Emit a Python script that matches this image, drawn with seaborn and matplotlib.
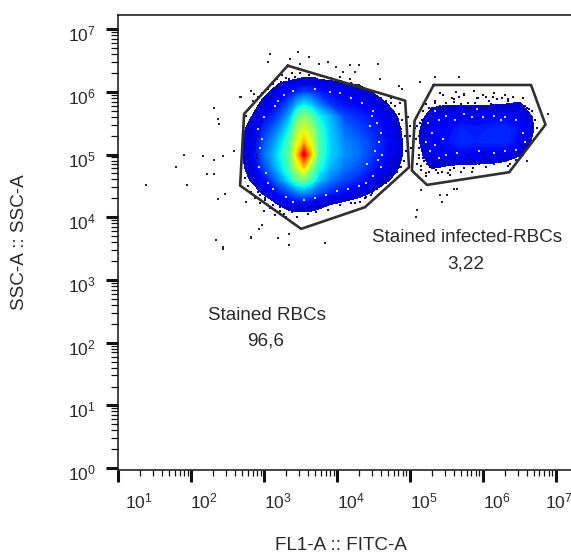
import numpy as np
import matplotlib
matplotlib.use("Agg")
import matplotlib.pyplot as plt
from matplotlib.ticker import LogLocator, NullFormatter, FixedLocator, FixedFormatter
from matplotlib.transforms import ScaledTranslation
import seaborn as sns

# log10 grid of the estimated event density (0 = empty, 10 = peak)
grid_lx = [2.6,2.8,3.0,3.2,3.35,3.45,3.55,3.65,3.75,3.9,4.1,4.3,4.5,4.7,4.9,5.1,5.3,5.5,5.7,5.9,6.1,6.3,6.5,6.7]
grid_ly = [6.4,6.2,6.0,5.8,5.6,5.4,5.2,5.0,4.8,4.6,4.4,4.2,4.0]
density = [
 [0,0,0,0,0,0,0,0,0,0,0,0,0,0,0,0,0,0,0,0,0,0,0,0],
 [0,0,0,0,.2,.3,.35,.35,.3,.2,0,0,0,0,0,0,0,0,0,0,0,0,0,0],
 [0,0,.1,.7,1,1.3,1.6,1.5,1.2,1,.9,.6,.25,0,0,0,0,0,0,0,0,0,0,0],
 [0,0,.5,1.1,1.9,2.8,3.4,3,2.3,1.5,1.1,.9,.7,.3,0,0,.15,.25,.25,.2,.25,.3,.35,0],
 [0,.2,1,1.7,2.8,4.4,5.2,4.6,3.6,2.9,1.7,1.4,1.1,.7,.05,.05,.6,.8,.9,.9,.9,1,1,.2],
 [0,.45,1.4,2.4,3.6,5.4,6.2,5.6,4.2,3.1,2.1,1.7,1.3,.9,.2,.2,.8,1,1.3,1.2,1.3,1.4,1.1,.3],
 [0,.55,1.8,3,4.3,6.2,7.3,6.2,4.4,3.2,2.4,2,1.5,1,.3,.2,.9,1.1,1.4,1.3,1.3,1.4,.9,.1],
 [0,.55,2.1,3.4,4.6,7,9.6,7.2,4.4,3.2,2.5,2.1,1.5,.9,.3,.1,.7,.9,1,.9,.9,.8,.35,0],
 [0,.5,1.7,3.1,4.3,6,7.2,5.4,3.9,2.9,2.2,1.8,1.2,.7,.15,0,.35,.25,.15,.15,.1,0,0,0],
 [0,.3,1,2.3,3.5,4.6,5,4.2,3.1,2.3,1.7,1.3,.8,.35,0,0,0,0,0,0,0,0,0,0],
 [0,0,.4,1.2,1.8,2.3,2.6,2.3,1.8,1.4,1,.6,.25,0,0,0,0,0,0,0,0,0,0,0],
 [0,0,0,.3,.6,.8,.8,.7,.5,.3,.1,0,0,0,0,0,0,0,0,0,0,0,0,0],
 [0,0,0,0,0,0,0,0,0,0,0,0,0,0,0,0,0,0,0,0,0,0,0,0],
]

# individual sparse events, log10 FITC / log10 SSC
outlier_lx = [2.32,2.37,2.39,2.69,2.59,1.905,2.17,2.32,2.44,1.80,2.22,2.32,1.39,1.95,2.47,2.37,2.75,2.93,2.83,2.35,2.44,2.44,
 3.08,3.47,3.62,3.05,3.36,3.50,3.75,3.88,4.18,4.30,4.57,3.99,4.08,4.25,4.59,4.85,5.14,5.35,5.67,4.89,2.67,2.86,2.83,6.9,6.6,
 2.97,2.93,2.83,3.2,3.34,3.35,3.84,5.1,5.09,5.44,5.16,5.42,5.51,5.6,5.65]
outlier_ly = [5.74,5.57,5.49,5.91,5.05,5.0,4.97,4.915,4.97,4.80,4.69,4.69,4.52,4.52,4.37,4.29,4.24,3.82,3.67,3.64,3.52,3.49,
 6.61,6.63,6.56,6.48,6.52,6.44,6.44,6.47,6.42,6.42,6.44,6.39,6.31,6.31,6.2,6.1,6.15,6.23,6.24,6.05,5.91,5.97,6.02,5.65,4.9,
 3.87,3.82,3.68,3.67,3.74,3.56,3.59,4.12,4.01,4.24,4.43,4.35,4.35,4.45,4.45]
rim_main_lx = [2.80,2.85,2.92,2.98,3.05,3.12,3.18,3.25,3.3,3.38,3.42,3.5,3.58,3.62,3.7,3.78,3.85,3.92,4.0,4.06,4.14,4.2,4.28,4.35,4.42,4.48,4.55,4.62,4.68,4.74,4.8,4.86,4.72,4.85,4.9,4.8,4.88,4.93,4.82,4.9,4.95,4.85,4.92,4.8,4.88,4.75,4.82,4.65,4.72,4.6,4.68,4.5,4.58,4.4,4.47,4.32,4.25,4.15,4.05,3.95,3.88,3.8,3.72,3.65,3.6,3.52,3.45,3.38,3.3,3.22,3.15,3.08,3.0,2.95,2.88,2.82,2.78,2.74,2.8,2.74,2.79,2.75,2.78,2.74,2.8,2.76,2.9,2.95,2.85,2.92,3.02,2.82,2.84,2.83,2.88,
 3.0,3.1,3.2,3.28,3.4,3.55,3.68,3.82,3.95,4.1,4.25,4.38,4.52,4.65,4.78,4.62,4.7,4.76,4.82,4.68,4.74,4.78,4.7,4.76,4.66,4.6,4.55,4.48,4.38,4.3,4.2,4.08,3.98,3.85,3.72,3.6,3.48,3.35,3.22,3.12,3.02,2.95,2.9,2.87,2.85,2.9,2.88,2.93,2.95,2.97,3.1,3.16,3.24,3.34,4.05,4.18,4.32,4.46,4.6,4.74,3.0,2.86,2.92,2.98,2.9,4.3,4.42,4.56,3.15,3.28]
rim_main_ly = [5.75,5.85,5.92,5.98,6.05,6.12,6.2,6.27,6.22,6.3,6.24,6.3,6.22,6.27,6.22,6.25,6.18,6.22,6.14,6.18,6.1,6.14,6.04,6.08,5.98,6.02,5.92,5.96,5.86,5.9,5.78,5.82,5.7,5.65,5.55,5.5,5.4,5.3,5.25,5.15,5.05,5.0,4.9,4.85,4.8,4.7,4.72,4.6,4.62,4.5,4.55,4.42,4.48,4.33,4.36,4.25,4.22,4.28,4.2,4.25,4.12,4.18,4.08,4.15,4.05,4.1,4.0,4.08,4.0,4.1,4.03,4.15,4.1,4.22,4.3,4.4,4.5,4.62,4.72,4.85,4.98,5.1,5.25,5.38,5.5,5.62,5.7,5.8,4.55,4.4,4.3,4.85,5.1,5.35,5.6,
 5.88,6.0,6.1,6.16,6.18,6.12,6.14,6.08,6.06,6.0,5.95,5.9,5.84,5.78,5.68,5.75,5.58,5.45,5.35,5.3,5.1,4.95,4.88,4.78,4.66,4.56,4.45,4.38,4.3,4.35,4.22,4.3,4.3,4.22,4.24,4.16,4.18,4.12,4.16,4.2,4.28,4.36,4.46,4.6,4.75,5.0,5.2,5.45,5.65,5.78,5.92,6.05,6.15,6.2,6.24,6.2,6.05,5.98,5.9,5.82,4.4,4.65,5.3,5.52,4.95,4.4,4.52,4.62,4.12,4.05]
rim_right_lx = [5.25,5.35,5.42,5.5,5.58,5.63,5.68,5.75,5.8,5.88,5.93,6.0,6.08,6.15,6.2,6.3,6.35,6.42,6.5,6.55,6.6,6.68,6.72,6.75,6.7,6.62,6.55,6.45,6.35,6.25,6.15,6.05,5.95,5.85,5.75,5.65,5.55,5.45,5.38,5.3,5.22,5.15,5.1,5.05,5.12,5.05,5.12,5.07,5.14,5.1,5.18,5.22,5.3,5.4,5.5,5.6,5.7,5.8,5.9,6.0,6.1,6.2,6.3,6.4,6.5,5.2,5.3,5.4,5.5,5.62,5.8,6.0,6.2,6.4,6.6,5.0,5.0,4.98,5.02,
 5.17,5.22,5.15,5.25,5.18,5.28,5.2,5.12,5.24,5.16,5.27,5.22,5.18,5.3,5.36,5.44,5.52,5.6,5.7,5.78,5.86,5.95,6.05,6.12,6.22,6.3,6.38,6.46,6.55,6.62,6.66,6.6,6.64,6.58,6.5,6.42,6.33,6.22,6.12,6.02,5.9,5.8,5.7,5.6,5.5,5.42,5.34,5.26,5.6,5.92,6.14,5.45,6.35,5.75,6.05,6.26,5.55,5.85,5.1,5.08,5.13]
rim_right_ly = [5.95,5.85,5.98,5.82,5.9,6.0,5.92,5.97,5.82,6.02,5.9,5.95,5.85,5.98,5.88,5.95,5.85,5.92,5.82,5.9,5.75,5.7,5.55,5.42,5.25,5.12,5.0,4.92,4.82,4.9,4.85,4.95,4.85,4.92,4.78,4.85,4.75,4.82,4.7,4.78,4.65,4.75,4.85,5.0,5.1,5.2,5.3,5.42,5.5,5.6,5.7,5.8,5.65,5.72,5.68,5.75,5.65,5.72,5.68,5.74,5.7,5.66,5.75,5.7,5.65,4.9,4.95,4.92,4.88,4.95,5.0,5.02,5.0,5.05,5.3,5.3,5.45,5.6,5.1,
 5.55,5.45,5.35,5.3,5.2,5.12,5.05,4.95,4.85,4.82,4.72,4.7,4.95,4.85,4.75,4.72,4.7,4.78,4.72,4.85,4.78,4.88,4.8,4.92,4.88,4.95,4.85,5.0,5.1,5.2,5.45,5.6,5.72,5.78,5.78,5.7,5.8,5.78,5.8,5.78,5.82,5.76,5.8,5.84,5.76,5.78,5.82,5.74,5.88,5.9,5.92,5.95,5.88,5.95,5.92,5.9,4.68,4.72,5.45,5.25,5.0]

# empty pockets in the fringes of the two populations
hole_lx = [2.92,2.95,2.93,2.97,3.0,3.03,3.05,3.12,3.2,3.15,3.28,3.4,3.3,3.4,3.55,3.7,3.85,4.0,4.15,4.3,4.4,4.5,4.6,4.62,4.58,4.6,4.55,4.5,4.35,4.2,4.05,3.9,3.7,4.45,4.52,4.42,4.48,4.57,
 5.25,5.3,5.22,5.35,5.28,5.4,5.5,5.62,5.75,5.85,6.0,6.15,6.3,6.45,6.55,6.58,6.45,6.3,6.15,5.95,5.8,5.65,5.5,5.4,6.25,5.92,5.35,5.45]
hole_ly = [5.4,5.1,4.8,5.25,5.6,4.7,4.55,4.45,5.85,5.78,5.95,6.02,4.32,4.25,4.28,4.3,4.35,4.42,4.45,4.5,4.55,4.65,4.8,5.0,5.2,5.35,5.5,5.7,5.82,5.9,5.98,6.0,6.05,5.45,5.05,4.85,5.62,4.92,
 5.5,5.35,5.2,5.15,5.05,5.55,5.62,5.55,5.65,5.6,5.6,5.62,5.6,5.55,5.35,5.2,5.08,5.05,5.02,5.05,5.0,5.02,5.0,4.95,5.55,5.72,5.7,5.25]

# gate polygons (log10)
gate_rbc_lx = [3.327,4.937,4.99,4.385,3.511,2.674,2.729,3.327]
gate_rbc_ly = [6.417,5.859,4.797,4.16,3.815,4.505,5.647,6.417]
gate_inf_lx = [5.328,6.662,6.86,6.363,5.236,5.029,5.066,5.328]
gate_inf_ly = [6.109,6.109,5.477,4.718,4.516,4.744,5.541,6.109]

x_decades = [1,2,3,4,5,6,7]
y_decades = [0,1,2,3,4,5,6,7]
x_label_shift = [21,13,14,14,14,14,3]

W, H = 571, 554
sns.set_style("ticks")
plt.rcParams['font.family'] = ['Liberation Sans', 'DejaVu Sans']
plt.rcParams['mathtext.fontset'] = 'custom'
plt.rcParams['mathtext.rm'] = 'Liberation Sans'
TC = '#2a2a2a'
fig = plt.figure(figsize=(W/100, H/100), dpi=100, facecolor='white')
ax = fig.add_axes([118/W, (H-470)/H, 453/W, 455/H])
ax.set_xscale('log'); ax.set_yscale('log')
ax.set_xlim(10**1, 10**7.21)
ax.set_ylim(10**-0.03, 10**7.225)

X, Y = np.meshgrid(10.0**np.array(grid_lx), 10.0**np.array(grid_ly))
ax.contourf(X, Y, np.array(density), levels=np.linspace(0.3, 10, 70),
            cmap='jet', vmin=-0.4, vmax=10.4, extend='max')

sns.scatterplot(x=10.0**np.array(hole_lx), y=10.0**np.array(hole_ly), ax=ax, marker='s', s=2,
                color='#c8d4ff', linewidth=0, legend=False)
dot = dict(ax=ax, marker='s', s=3, color='#0a0a78', linewidth=0, legend=False)
sns.scatterplot(x=10.0**np.array(rim_main_lx), y=10.0**np.array(rim_main_ly), **dot)
sns.scatterplot(x=10.0**np.array(rim_right_lx), y=10.0**np.array(rim_right_ly), **dot)
sns.scatterplot(x=10.0**np.array(outlier_lx), y=10.0**np.array(outlier_ly),
                ax=ax, marker='s', s=2.5, color='#222244', linewidth=0, legend=False)
for gx, gy in [(gate_rbc_lx, gate_rbc_ly), (gate_inf_lx, gate_inf_ly)]:
    sns.lineplot(x=10.0**np.array(gx), y=10.0**np.array(gy), sort=False, estimator=None,
                 ax=ax, color='#303030', linewidth=1.9, legend=False)

ax.spines['right'].set_visible(False)
for s in ['left', 'top', 'bottom']:
    ax.spines[s].set_linewidth(1.1); ax.spines[s].set_color('#111111')

subs = np.arange(2, 10) * 1.0
ax.xaxis.set_major_locator(FixedLocator([10.0**d for d in x_decades]))
ax.xaxis.set_major_formatter(FixedFormatter([rf'$\mathregular{{10^{{{d}}}}}$' for d in x_decades]))
ax.xaxis.set_minor_locator(LogLocator(base=10, subs=subs, numticks=12))
ax.xaxis.set_minor_formatter(NullFormatter())
ax.yaxis.set_major_locator(FixedLocator([10.0**d for d in y_decades]))
ax.yaxis.set_major_formatter(FixedFormatter([rf'$\mathregular{{10^{{{d}}}}}$' for d in y_decades]))
ax.yaxis.set_minor_locator(LogLocator(base=10, subs=subs, numticks=12))
ax.yaxis.set_minor_formatter(NullFormatter())
ax.tick_params(axis='x', which='major', length=8.5, width=2.2, color='#111111', labelsize=12.5, labelcolor=TC, pad=7)
ax.tick_params(axis='x', which='minor', length=4.2, width=0.9, color='#111111')
ax.tick_params(axis='y', which='major', length=9, width=2.2, color='#111111', labelsize=12.5, labelcolor=TC, pad=4)
ax.tick_params(axis='y', which='minor', length=5, width=0.9, color='#111111')
for lab, dx in zip(ax.get_xticklabels(), x_label_shift):
    lab.set_transform(lab.get_transform() + ScaledTranslation(dx/100, 0, fig.dpi_scale_trans))
for lab in ax.get_yticklabels():
    lab.set_transform(lab.get_transform() + ScaledTranslation(-4/100, -4/100, fig.dpi_scale_trans))

def px_text(px, py, s, **kw):
    fig.text(px/W, 1-py/H, s, ha='center', va='center', color=TC, fontsize=13.6, **kw)

px_text(467, 237, 'Stained infected-RBCs')
px_text(466, 264, '3,22')
px_text(267, 315, 'Stained RBCs')
px_text(266, 341, '96,6')
px_text(341, 545, 'FL1-A :: FITC-A')
px_text(20, 242, 'SSC-A :: SSC-A', rotation=90)

fig.savefig('out.png', dpi=100)
